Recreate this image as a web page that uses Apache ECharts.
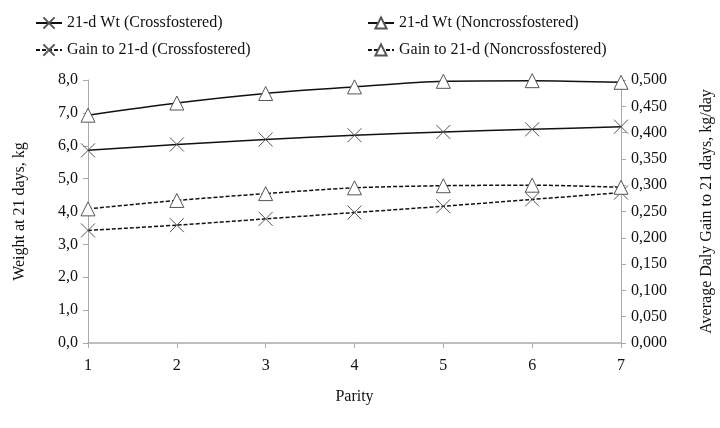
<!DOCTYPE html>
<html>
<head>
<meta charset="utf-8">
<script src="https://cdn.jsdelivr.net/npm/echarts@6/dist/echarts.min.js"></script>
<style>
  html, body { margin: 0; padding: 0; background: #fff; }
  #chart { width: 720px; height: 428px; }
</style>
</head>
<body>
<div id="chart"></div>
<script>
const parity = ['1', '2', '3', '4', '5', '6', '7']
// weight at 21 days, kg (left axis)
const wtCross = [5.86, 6.04, 6.19, 6.32, 6.42, 6.50, 6.58]
const wtNoncross = [6.93, 7.30, 7.59, 7.79, 7.96, 7.98, 7.93]
// average daily gain to 21 days, kg/day (right axis)
const gainCross = [0.214, 0.224, 0.236, 0.248, 0.260, 0.273, 0.286]
const gainNoncross = [0.255, 0.271, 0.284, 0.295, 0.299, 0.300, 0.296]

const font = 'Liberation Serif'
const crossIcon = 'path://M0,0L10,10M10,0L0,10'

function mk(name, data, symbol, dashed, yIdx) {
  return {
    name: name,
    type: 'line',
    yAxisIndex: yIdx,
    data: data,
    smooth: 0.3,
    symbol: symbol,
    symbolSize: 14,
    itemStyle: { color: '#fff', borderColor: '#555', borderWidth: 1 },
    lineStyle: { color: '#111', width: 1.5, type: dashed ? [4, 2] : 'solid' }
  }
}

const legendText = { fontFamily: font, fontSize: 16, color: '#111' }

const chart = echarts.init(document.getElementById('chart'))
chart.setOption({
  animation: false,
  backgroundColor: '#fff',
  textStyle: { fontFamily: font },
  legend: [
    {
      left: 30, top: 10, orient: 'vertical', itemGap: 11, itemWidth: 26, itemHeight: 14,
      textStyle: legendText,
      data: ['21-d Wt (Crossfostered)', 'Gain to 21-d (Crossfostered)']
    },
    {
      left: 362, top: 10, orient: 'vertical', itemGap: 11, itemWidth: 26, itemHeight: 14,
      textStyle: legendText,
      data: ['21-d Wt (Noncrossfostered)', 'Gain to 21-d (Noncrossfostered)']
    }
  ],
  grid: { left: 88, right: 99, top: 80, bottom: 85, outerBoundsMode: 'none' },
  xAxis: {
    type: 'category',
    data: parity,
    boundaryGap: false,
    name: 'Parity',
    nameLocation: 'middle',
    nameGap: 46,
    nameTextStyle: { fontFamily: font, fontSize: 16, color: '#111' },
    axisLine: { lineStyle: { color: '#aaa', width: 1.5 } },
    axisTick: { show: true, alignWithLabel: true, length: 5, lineStyle: { color: '#aaa' } },
    axisLabel: { fontFamily: font, fontSize: 16, color: '#111', margin: 15 }
  },
  yAxis: [
    {
      type: 'value', min: 0, max: 8, interval: 1,
      name: 'Weight at 21 days, kg',
      nameLocation: 'middle', nameGap: 60, nameRotate: 90,
      nameTextStyle: { fontFamily: font, fontSize: 16, color: '#111' },
      axisLine: { show: true, lineStyle: { color: '#aaa' } },
      axisTick: { show: true, length: 5, lineStyle: { color: '#aaa' } },
      splitLine: { show: false },
      axisLabel: {
        fontFamily: font, fontSize: 16, color: '#111', margin: 10,
        formatter: v => v.toFixed(1).replace('.', ',')
      }
    },
    {
      type: 'value', min: 0, max: 0.5, interval: 0.05,
      name: 'Average Daly Gain to 21 days, kg/day',
      nameLocation: 'middle', nameGap: 78, nameRotate: 90,
      nameTextStyle: { fontFamily: font, fontSize: 16, color: '#111' },
      axisLine: { show: true, lineStyle: { color: '#aaa' } },
      axisTick: { show: true, length: 5, lineStyle: { color: '#aaa' } },
      splitLine: { show: false },
      axisLabel: {
        fontFamily: font, fontSize: 16, color: '#111', margin: 10,
        formatter: v => v.toFixed(3).replace('.', ',')
      }
    }
  ],
  series: [
    mk('21-d Wt (Crossfostered)', wtCross, crossIcon, false, 0),
    mk('21-d Wt (Noncrossfostered)', wtNoncross, 'triangle', false, 0),
    mk('Gain to 21-d (Crossfostered)', gainCross, crossIcon, true, 1),
    mk('Gain to 21-d (Noncrossfostered)', gainNoncross, 'triangle', true, 1)
  ]
})
</script>
</body>
</html>
